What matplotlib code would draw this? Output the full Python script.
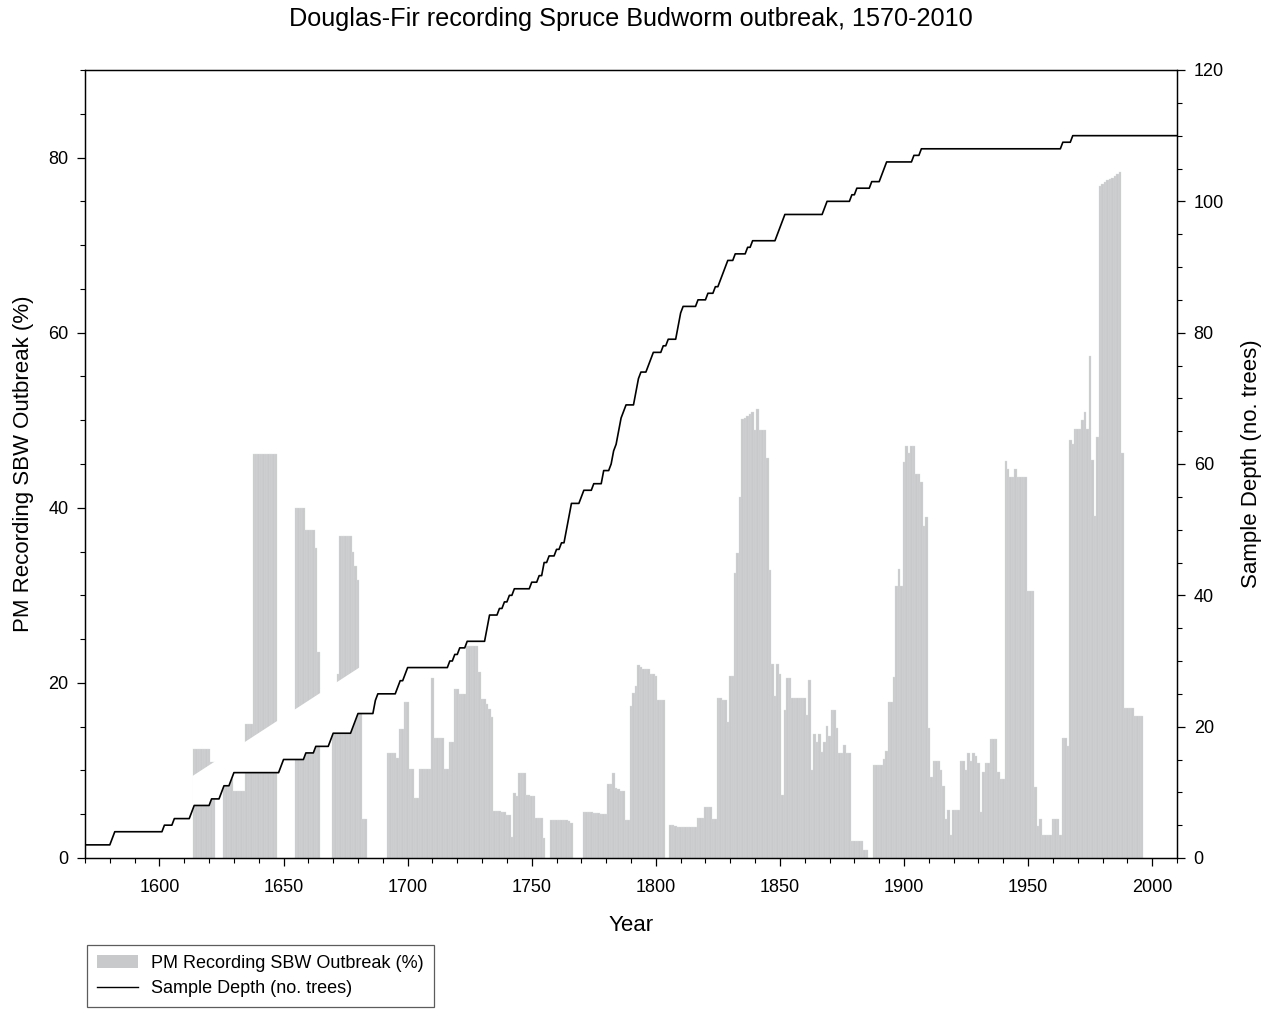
import numpy as np
import matplotlib
matplotlib.use("Agg")
import matplotlib.pyplot as plt
from matplotlib.patches import Patch
from matplotlib.lines import Line2D
from matplotlib.ticker import MultipleLocator

plt.rcParams['font.family'] = ['Liberation Sans', 'DejaVu Sans']

# ---- data: % of trees recording SBW outbreak (runs: first year, last year, value)
bar_runs = [
    (1614, 1620, 12.4), (1621, 1622, 11.0), (1626, 1629, 9.0), (1630, 1634, 7.6),
    (1635, 1637, 15.3), (1638, 1647, 46.1), (1655, 1658, 40.0), (1659, 1662, 37.5),
    (1663, 1663, 35.35), (1664, 1664, 23.5), (1670, 1671, 17.0), (1672, 1672, 21.0),
    (1673, 1677, 36.8), (1678, 1678, 35.0), (1679, 1679, 33.3), (1680, 1680, 31.7),
    (1681, 1681, 19.0), (1682, 1683, 4.5),
    (1692, 1695, 12.0), (1696, 1696, 11.45), (1697, 1698, 14.7), (1699, 1700, 17.8),
    (1701, 1702, 10.2), (1703, 1704, 6.9), (1705, 1709, 10.2), (1710, 1710, 20.6),
    (1711, 1714, 13.7), (1715, 1716, 10.2), (1717, 1718, 13.3), (1719, 1720, 19.3),
    (1721, 1723, 18.7), (1724, 1728, 24.2), (1729, 1729, 21.3), (1730, 1731, 18.15),
    (1732, 1732, 17.6), (1733, 1733, 17.0), (1734, 1734, 16.1), (1735, 1737, 5.4),
    (1738, 1739, 5.2), (1740, 1741, 4.9), (1742, 1742, 2.4), (1743, 1743, 7.4),
    (1744, 1744, 7.1), (1745, 1747, 9.7), (1748, 1749, 7.2), (1750, 1751, 7.1),
    (1752, 1754, 4.6), (1755, 1755, 2.25), (1758, 1764, 4.3), (1765, 1765, 4.2),
    (1766, 1766, 4.0),
    (1771, 1774, 5.2), (1775, 1777, 5.1), (1778, 1780, 5.0), (1781, 1782, 8.4),
    (1783, 1783, 9.7), (1784, 1784, 8.0), (1785, 1785, 7.9), (1786, 1786, 7.7),
    (1787, 1787, 7.6), (1788, 1789, 4.3), (1790, 1790, 17.35), (1791, 1791, 18.8),
    (1792, 1792, 19.7), (1793, 1793, 22.1), (1794, 1794, 21.8), (1795, 1797, 21.6),
    (1798, 1799, 21.0), (1800, 1800, 20.8), (1801, 1803, 18.1),
    (1806, 1807, 3.8), (1808, 1808, 3.6), (1809, 1816, 3.5), (1817, 1819, 4.6),
    (1820, 1822, 5.8), (1823, 1824, 4.5), (1825, 1826, 18.3), (1827, 1828, 18.0),
    (1829, 1829, 15.5), (1830, 1831, 20.8), (1832, 1832, 32.5), (1833, 1833, 34.8),
    (1834, 1834, 41.2), (1835, 1835, 50.1), (1836, 1836, 50.3), (1837, 1837, 50.5),
    (1838, 1838, 50.7), (1839, 1839, 50.9), (1840, 1840, 48.9), (1841, 1841, 51.3),
    (1842, 1844, 48.9), (1845, 1845, 45.7), (1846, 1846, 32.9), (1847, 1847, 22.2),
    (1848, 1848, 18.5), (1849, 1849, 22.2), (1850, 1850, 21.0), (1851, 1851, 7.2),
    (1852, 1852, 16.9), (1853, 1854, 20.6), (1855, 1860, 18.3), (1861, 1861, 16.3),
    (1862, 1862, 20.3), (1863, 1863, 10.1), (1864, 1864, 14.2), (1865, 1865, 13.2),
    (1866, 1866, 14.2), (1867, 1867, 12.1), (1868, 1868, 13.2), (1869, 1869, 15.1),
    (1870, 1870, 13.9), (1871, 1872, 16.9), (1873, 1873, 14.9), (1874, 1875, 11.95),
    (1876, 1876, 12.9), (1877, 1878, 11.95), (1879, 1883, 1.9), (1884, 1885, 0.9),
    (1888, 1891, 10.6), (1892, 1892, 11.3), (1893, 1893, 12.2), (1894, 1895, 17.85),
    (1896, 1896, 20.7), (1897, 1897, 31.05), (1898, 1898, 33.0), (1899, 1899, 31.05),
    (1900, 1900, 45.2), (1901, 1901, 47.1), (1902, 1902, 46.2), (1903, 1904, 47.1),
    (1905, 1906, 43.9), (1907, 1907, 43.0), (1908, 1908, 37.9), (1909, 1909, 38.9),
    (1910, 1910, 14.8), (1911, 1911, 9.2), (1912, 1914, 11.1), (1915, 1915, 10.1),
    (1916, 1916, 8.2), (1917, 1917, 4.5), (1918, 1918, 5.5), (1919, 1919, 2.6),
    (1920, 1922, 5.5), (1923, 1924, 11.1), (1925, 1925, 10.1), (1926, 1926, 11.95),
    (1927, 1927, 11.1), (1928, 1928, 11.95), (1929, 1929, 11.7), (1930, 1930, 10.9),
    (1931, 1931, 5.2), (1932, 1932, 9.8), (1933, 1934, 10.9), (1935, 1937, 13.6),
    (1938, 1938, 9.8), (1939, 1940, 9.0), (1941, 1941, 45.35), (1942, 1942, 44.45),
    (1943, 1944, 43.5), (1945, 1945, 44.45), (1946, 1949, 43.5), (1950, 1952, 30.5),
    (1953, 1953, 8.1), (1954, 1954, 3.6), (1955, 1955, 4.5), (1956, 1959, 2.6),
    (1960, 1962, 4.5), (1963, 1963, 2.6), (1964, 1965, 13.66), (1966, 1966, 12.8),
    (1967, 1967, 47.7), (1968, 1968, 47.3), (1969, 1971, 49.05), (1972, 1972, 50.0),
    (1973, 1973, 50.95), (1974, 1974, 49.05), (1975, 1975, 57.3), (1976, 1976, 45.4),
    (1977, 1977, 39.1), (1978, 1978, 48.1), (1979, 1979, 76.8), (1980, 1980, 77.0),
    (1981, 1981, 77.2), (1982, 1982, 77.4), (1983, 1983, 77.6), (1984, 1984, 77.7),
    (1985, 1985, 77.9), (1986, 1986, 78.1), (1987, 1987, 78.3), (1988, 1988, 46.3),
    (1989, 1992, 17.1), (1993, 1996, 16.2),
]

# ---- data: sample depth (year from which the value holds, number of trees)
depth_changes = [
    (1570, 2), (1581, 3), (1582, 4), (1602, 5), (1606, 6), (1613, 7), (1614, 8),
    (1621, 9), (1625, 10), (1626, 11), (1629, 12), (1630, 13), (1649, 14), (1650, 15),
    (1659, 16), (1663, 17), (1669, 18), (1670, 19), (1678, 20), (1679, 21), (1680, 22),
    (1687, 24), (1688, 25), (1696, 26), (1697, 27), (1699, 28), (1700, 29), (1717, 30),
    (1719, 31), (1721, 32), (1724, 33), (1732, 35), (1733, 37), (1737, 38), (1739, 39),
    (1741, 40), (1743, 41), (1750, 42), (1753, 43), (1755, 45), (1757, 46), (1760, 47),
    (1762, 48), (1764, 50), (1765, 52), (1766, 54), (1770, 55), (1771, 56), (1775, 57),
    (1779, 59), (1782, 60), (1783, 62), (1784, 63), (1785, 65), (1786, 67), (1787, 68),
    (1788, 69), (1792, 71), (1793, 73), (1794, 74), (1797, 75), (1798, 76), (1799, 77),
    (1803, 78), (1805, 79), (1809, 81), (1810, 83), (1811, 84), (1817, 85), (1821, 86),
    (1824, 87), (1826, 88), (1827, 89), (1828, 90), (1829, 91), (1832, 92), (1837, 93),
    (1839, 94), (1849, 95), (1850, 96), (1851, 97), (1852, 98), (1868, 99), (1869, 100),
    (1879, 101), (1881, 102), (1887, 103), (1891, 104), (1892, 105), (1893, 106),
    (1904, 107), (1907, 108), (1964, 109), (1968, 110),
]
depth_first_year = 1570
depth_last_year = 2010

# white masking band seen in the source graphic (year, left-axis %)
mask_years = [1613.0, 1683.0]
mask_top = [9.4, 22.3]

# ---- expand runs
bar_years, bar_vals = [], []
for s, e, v in bar_runs:
    for y in range(s, e + 1):
        bar_years.append(y)
        bar_vals.append(v)

d_years = np.arange(depth_first_year, depth_last_year + 1)
d_vals = np.zeros(len(d_years))
for y0, v in depth_changes:
    d_vals[d_years >= y0] = v

# ---- figure
W, H = 1275, 1011
fig = plt.figure(figsize=(W / 100, H / 100), dpi=100)
ax = fig.add_axes([85 / W, 1 - 858 / H, (1177 - 85) / W, (858 - 70) / H])
ax2 = ax.twinx()

bar_color = '#c8c9cb'
ax.bar(bar_years, bar_vals, width=1.0, color=bar_color, edgecolor='#dcdddf',
       linewidth=0.25, zorder=2)

# mask band between the depth line and a diagonal (left-axis units)
m = (d_years >= mask_years[0]) & (d_years <= mask_years[1])
mx = d_years[m]
lower = d_vals[m] * 90.0 / 120.0
upper = np.interp(mx, mask_years, mask_top)
ax.fill_between(mx, lower, upper, color='white', linewidth=0, zorder=3)

ax2.plot(d_years, d_vals, color='black', linewidth=1.2, zorder=4)

ax.set_xlim(1570, 2010)
ax.set_ylim(0, 90)
ax2.set_ylim(0, 120)

ax.xaxis.set_major_locator(MultipleLocator(50))
ax.xaxis.set_minor_locator(MultipleLocator(10))
ax.yaxis.set_major_locator(MultipleLocator(20))
ax.yaxis.set_minor_locator(MultipleLocator(5))
ax2.yaxis.set_major_locator(MultipleLocator(20))
ax2.yaxis.set_minor_locator(MultipleLocator(5))
ax.set_xticks([t for t in range(1600, 2001, 50)])

for a in (ax, ax2):
    a.tick_params(which='major', direction='out', length=6, width=0.9, labelsize=13, pad=6)
    a.tick_params(which='minor', direction='out', length=3.5, width=0.8)
    for sp in a.spines.values():
        sp.set_linewidth(0.9)
ax.tick_params(axis='x', which='major', pad=9)

ax.set_xlabel('Year', fontsize=16, labelpad=14)
ax.set_ylabel('PM Recording SBW Outbreak (%)', fontsize=16, labelpad=10)
ax2.set_ylabel('Sample Depth (no. trees)', fontsize=16, labelpad=12)

fig.text(631 / W, 1 - 19 / H, 'Douglas-Fir recording Spruce Budworm outbreak, 1570-2010',
         ha='center', va='center', fontsize=18.2)

handles = [Patch(facecolor=bar_color, edgecolor='none', label='PM Recording SBW Outbreak (%)'),
           Line2D([], [], color='black', linewidth=1.0, label='Sample Depth (no. trees)')]
leg = fig.legend(handles=handles, loc='upper left', bbox_to_anchor=(87 / W, 1 - 945 / H),
                 fontsize=13, frameon=True, fancybox=False, edgecolor='#333333',
                 handlelength=2.3, handletextpad=0.7, borderpad=0.55, labelspacing=0.45,
                 borderaxespad=0)
leg.get_frame().set_linewidth(0.9)

fig.savefig('out.png', dpi=100)
